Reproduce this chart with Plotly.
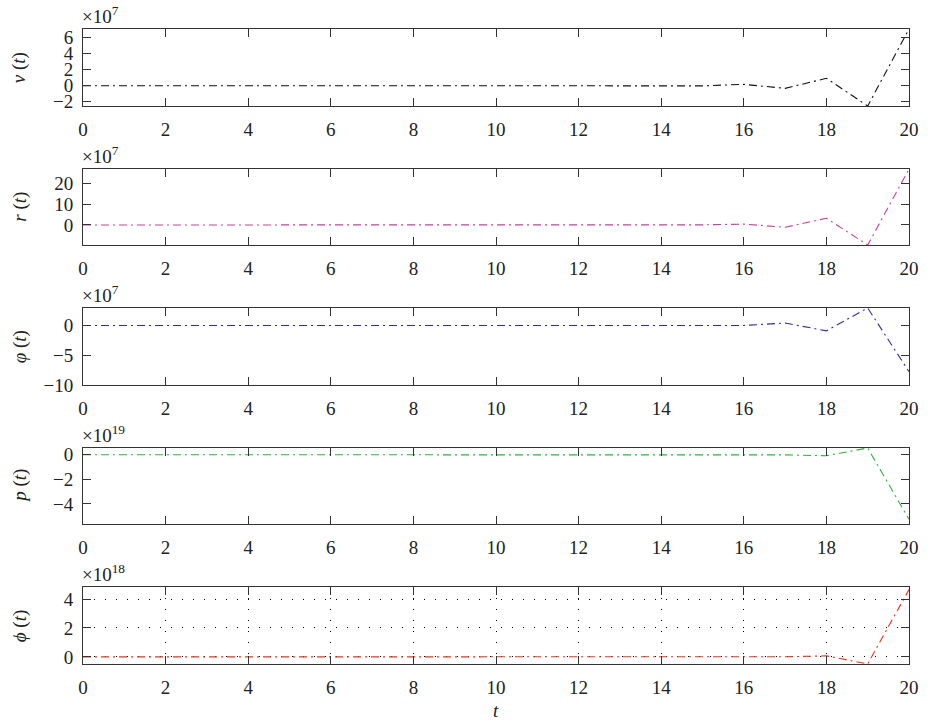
import plotly.graph_objects as go

# Time samples
t = list(range(21))

# State trajectories, stored in units of 10^exponent
v_vals = [0.0, 0.0, 0.0, 0.0, 0.0, 0.0, 0.0, 0.0, 0.0, 0.0, 0.0,
          0.0, 0.0, 0.001, -0.004, -0.02, 0.17, -0.33, 0.92, -2.54, 7.09]
r_vals = [0.0, 0.0, 0.0, 0.0, 0.0, 0.0, 0.0, 0.0, 0.0, 0.0, 0.0,
          0.0, 0.0, 0.004, -0.015, 0.05, 0.4, -1.1, 3.2, -9.6, 26.8]
phi_vals = [0.0, 0.0, 0.0, 0.0, 0.0, 0.0, 0.0, 0.0, 0.0, 0.0, 0.0,
            0.0, 0.0, 0.0, 0.003, -0.01, 0.0, 0.4, -0.9, 2.93, -7.76]
p_vals = [0.0, 0.0, 0.0, 0.0, 0.0, 0.0, 0.0, 0.0, 0.0, 0.0, 0.0,
          0.0, 0.0, 0.0, 0.0, 0.0, 0.0, -0.01, -0.08, 0.55, -5.25]
psi_vals = [0.0, 0.0, 0.0, 0.0, 0.0, 0.0, 0.0, 0.0, 0.0, 0.0, 0.0,
            0.0, 0.0, 0.0, 0.0, 0.0, 0.0, 0.01, 0.07, -0.49, 4.65]

series = [v_vals, r_vals, phi_vals, p_vals, psi_vals]
exponents = [7, 7, 7, 19, 18]
names = ["<i>v</i> (<i>t</i>)", "<i>r</i> (<i>t</i>)", "<i>\u03c6</i> (<i>t</i>)",
         "<i>p</i> (<i>t</i>)", "<i>\u03d5</i> (<i>t</i>)"]
colors = ["#111111", "#c8409c", "#2e2e9e", "#33b03a", "#e8351f"]
y_ranges = [[-2.54, 7.09], [-9.6, 26.8], [-10, 2.93], [-5.63, 0.55], [-0.49, 4.83]]
y_ticks = [[-2, 0, 2, 4, 6], [0, 10, 20], [-10, -5, 0], [-4, -2, 0], [0, 2, 4]]
x_ticks = list(range(0, 21, 2))

W, H = 931, 722
ML, MR, MT, MB = 83, 12, 29, 58
ph = H - MT - MB
# panel top/bottom in pixels
panels = [(29, 106), (169, 245), (308, 385), (448, 524), (587, 664)]

FONT = "Liberation Serif, Times New Roman, serif"
FS = 19
TXT = "#222222"
fig = go.Figure()
annotations = []

for i, (vals, name, col) in enumerate(zip(series, names, colors)):
    k = i + 1
    xa = "x" if k == 1 else f"x{k}"
    ya = "y" if k == 1 else f"y{k}"
    fig.add_trace(go.Scatter(
        x=t, y=vals, mode="lines", xaxis=xa, yaxis=ya,
        line=dict(color=col, width=1.1, dash="8px,4px,2px,4px"),
        showlegend=False, hoverinfo="skip"))
    top, bot = panels[i]
    d0 = 1 - (bot - MT) / ph
    d1 = 1 - (top - MT) / ph
    grid = (k == 5)
    common = dict(
        ticks="inside", ticklen=8, tickcolor="#333333", tickwidth=1,
        showline=True, mirror="ticks", linecolor="#333333", linewidth=1,
        showgrid=grid, gridcolor="#000000", gridwidth=1, griddash="1px,10px",
        zeroline=False, tickfont=dict(family=FONT, size=FS, color=TXT))
    fig.layout[f"xaxis{'' if k == 1 else k}"] = dict(
        domain=[0, 1], anchor=ya, range=[0, 20], tickvals=x_ticks,
        ticklabelstandoff=6, **common)
    fig.layout[f"yaxis{'' if k == 1 else k}"] = dict(
        domain=[d0, d1], anchor=xa, range=y_ranges[i], tickvals=y_ticks[i],
        ticklabelstandoff=5, **common)
    # exponent label above the panel
    annotations.append(dict(
        text=f"\u00d710<sup>{exponents[i]}</sup>", xref="paper", yref="paper",
        x=0, y=d1, xanchor="left", yanchor="bottom", yshift=0, xshift=-3,
        showarrow=False, font=dict(family=FONT, size=FS, color=TXT)))
    # y-axis title
    annotations.append(dict(
        text=name, xref="paper", yref="paper",
        x=-(ML - 19) / (W - ML - MR), y=(d0 + d1) / 2, xanchor="center",
        yanchor="middle", textangle=-90, showarrow=False,
        font=dict(family=FONT, size=FS, color=TXT)))

annotations.append(dict(
    text="<i>t</i>", xref="paper", yref="paper", x=0.5, y=-(710 - 664) / ph,
    xanchor="center", yanchor="middle", showarrow=False,
    font=dict(family=FONT, size=FS, color=TXT)))

fig.update_layout(
    width=W, height=H, margin=dict(l=ML, r=MR, t=MT, b=MB),
    paper_bgcolor="white", plot_bgcolor="white", annotations=annotations)

fig.write_html("out.html")
